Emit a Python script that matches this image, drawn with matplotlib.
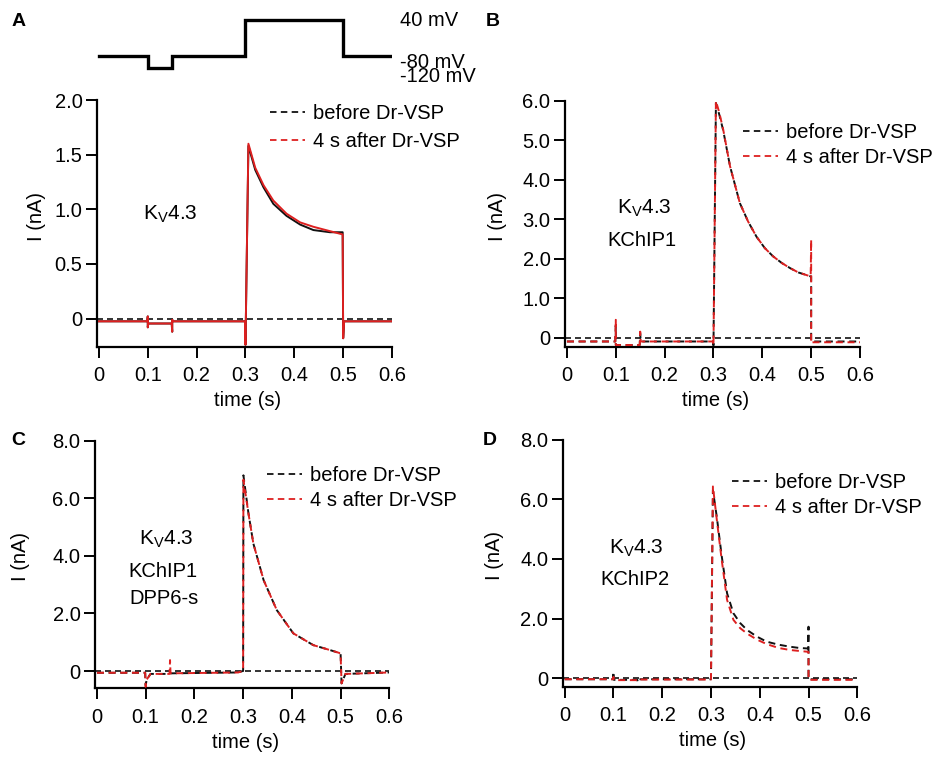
import matplotlib
matplotlib.use('Agg')
import matplotlib.pyplot as plt
from matplotlib.lines import Line2D

plt.rcParams['font.family'] = ['Liberation Sans', 'DejaVu Sans']
plt.rcParams['mathtext.fontset'] = 'custom'
plt.rcParams['mathtext.rm'] = 'Liberation Sans'
plt.rcParams['mathtext.it'] = 'Liberation Sans'
plt.rcParams['mathtext.bf'] = 'Liberation Sans:bold'

# ---------------- data ----------------
# voltage protocol
proto_t = [0, 0.1, 0.15, 0.3, 0.5, 0.6]
proto_v = [-80, -120, -80, 40, -80, -80]
proto_labels = ['40 mV', '-80 mV', '-120 mV']

legend_labels = ['before Dr-VSP', '4 s after Dr-VSP']
x_ticks = [0, 0.1, 0.2, 0.3, 0.4, 0.5, 0.6]
x_ticklabels = ['0', '0.1', '0.2', '0.3', '0.4', '0.5', '0.6']

# Panel A: Kv4.3
tA = [0, 0.099, 0.1, 0.1, 0.101, 0.149, 0.15, 0.15, 0.151, 0.299, 0.3, 0.306, 0.32,
      0.337, 0.357, 0.384, 0.412, 0.439, 0.473, 0.499, 0.5, 0.502, 0.6]
beforeA = [-0.025, -0.025, 0.02, -0.08, -0.045, -0.045, -0.12, -0.01, -0.025, -0.025, -0.24, 1.58, 1.36,
           1.20, 1.05, 0.94, 0.86, 0.81, 0.79, 0.79, -0.18, -0.025, -0.025]
afterA = [-0.025, -0.025, 0.02, -0.08, -0.045, -0.045, -0.12, -0.01, -0.025, -0.025, -0.24, 1.60, 1.38,
          1.22, 1.08, 0.96, 0.88, 0.84, 0.80, 0.77, -0.18, -0.025, -0.025]
yticksA = [0, 0.5, 1.0, 1.5, 2.0]
yticklabelsA = ['0', '0.5', '1.0', '1.5', '2.0']

# Panel B: Kv4.3 + KChIP1
tB = [0, 0.099, 0.1, 0.1, 0.102, 0.149, 0.15, 0.151, 0.299, 0.3, 0.305, 0.312, 0.32, 0.334, 0.354,
      0.371, 0.388, 0.405, 0.422, 0.44, 0.457, 0.474, 0.499, 0.5, 0.5, 0.502, 0.6]
beforeB = [-0.1, -0.1, 0.3, -0.19, -0.19, -0.19, 0.1, -0.1, -0.1, -0.2, 5.95, 5.65, 5.25, 4.34, 3.41,
           2.94, 2.56, 2.27, 2.06, 1.89, 1.76, 1.65, 1.55, 1.55, -0.1, -0.1, -0.1]
afterB = [-0.1, -0.1, 0.45, -0.19, -0.19, -0.19, 0.15, -0.1, -0.1, -0.2, 6.0, 5.7, 5.27, 4.34, 3.41,
          2.94, 2.56, 2.27, 2.06, 1.89, 1.76, 1.65, 1.55, 2.48, -0.15, -0.12, -0.12]
yticksB = [0, 1, 2, 3, 4, 5, 6]
yticklabelsB = ['0', '1.0', '2.0', '3.0', '4.0', '5.0', '6.0']

# Panel C: Kv4.3 + KChIP1 + DPP6-s
tC = [0, 0.099, 0.1, 0.102, 0.11, 0.149, 0.15, 0.151, 0.29, 0.299, 0.3, 0.3006, 0.311, 0.321, 0.342,
      0.369, 0.403, 0.444, 0.478, 0.499, 0.5, 0.502, 0.51, 0.6]
beforeC = [-0.06, -0.06, -0.5, -0.3, -0.1, -0.1, -0.1, -0.08, -0.05, 0.0, 0.0, 6.8, 5.47, 4.43, 3.16,
           2.12, 1.31, 0.90, 0.73, 0.62, 0.62, -0.43, -0.1, -0.05]
afterC = [-0.06, -0.06, -0.55, -0.3, -0.1, -0.1, 0.38, -0.08, -0.05, 0.0, 0.0, 6.65, 5.47, 4.43, 3.16,
          2.12, 1.31, 0.90, 0.73, 0.62, 0.62, -0.43, -0.1, -0.05]
yticksC = [0, 2, 4, 6, 8]
yticklabelsC = ['0', '2.0', '4.0', '6.0', '8.0']

# Panel D: Kv4.3 + KChIP2
tD = [0, 0.099, 0.1, 0.101, 0.149, 0.15, 0.151, 0.299, 0.3, 0.304, 0.312, 0.322, 0.333, 0.346, 0.36,
      0.374, 0.394, 0.414, 0.438, 0.462, 0.48, 0.499, 0.5, 0.5, 0.502, 0.6]
beforeD = [-0.03, -0.03, 0.22, -0.05, -0.05, -0.12, -0.03, -0.03, -0.03, 6.3, 5.4, 4.1, 2.85, 2.18, 1.85,
           1.62, 1.40, 1.23, 1.13, 1.06, 1.02, 1.0, 1.73, -0.03, -0.03, -0.03]
afterD = [-0.03, -0.03, 0.05, -0.06, -0.06, -0.08, -0.04, -0.04, -0.04, 6.43, 5.31, 3.97, 2.63, 1.96, 1.68,
          1.50, 1.30, 1.15, 1.02, 0.95, 0.92, 0.89, 0.89, -0.05, -0.05, -0.05]
yticksD = [0, 2, 4, 6, 8]
yticklabelsD = ['0', '2.0', '4.0', '6.0', '8.0']

# ---------------- layout helpers ----------------
W, H = 938, 757
fig = plt.figure(figsize=(W / 100, H / 100), dpi=100)


def fx(px):
    return px / W


def fy(py):
    return 1 - py / H


def add_ax(left, right, top, bottom):
    return fig.add_axes([fx(left), fy(bottom), (right - left) / W, (bottom - top) / H])


BLACK = '#111111'
RED = '#dd2020'
FS = 14.5
EM = FS * 100 / 72
DASH = (0, (3.6, 2.4))
KV = r'K$_{\mathregular{V}}$4.3'

panels = [
    dict(box=(97, 392, 100, 347), t=tA, b=beforeA, a=afterA, yt=yticksA, ytl=yticklabelsA, ylim=(-0.26, 2.0),
         solid=True, letter='A', letter_xy=(19, 21), kv=(143, 219.5),
         texts=[], leg=(270, 127.4, 28.3), ylab=(37, 216.7)),
    dict(box=(565, 860, 101, 347), t=tB, b=beforeB, a=afterB, yt=yticksB, ytl=yticklabelsB, ylim=(-0.24, 6.0),
         solid=False, letter='B', letter_xy=(493, 21), kv=(617, 214),
         texts=[('KChIP1', 642, 245.7)],
         leg=(743, 144.7, 26), ylab=(497, 216.7)),
    dict(box=(95, 389.3, 440.8, 688.3), t=tC, b=beforeC, a=afterC, yt=yticksC, ytl=yticklabelsC, ylim=(-0.6, 8.0),
         solid=False, letter='C', letter_xy=(18, 441), kv=(138.5, 545),
         texts=[('KChIP1', 163, 576.7), ('DPP6-s', 164, 604)],
         leg=(267, 488, 26), ylab=(20, 556.7)),
    dict(box=(562.7, 857.3, 439.6, 686.7), t=tD, b=beforeD, a=afterD, yt=yticksD, ytl=yticklabelsD, ylim=(-0.28, 8.0),
         solid=False, letter='D', letter_xy=(490, 441), kv=(609, 553.3),
         texts=[('KChIP2', 635, 585)],
         leg=(732, 495.3, 26), ylab=(495, 555)),
]

for p in panels:
    left, right, top, bottom = p['box']
    ax = add_ax(left, right, top, bottom)
    ax.set_xlim(-0.004, 0.6)
    ax.set_ylim(*p['ylim'])
    # zero reference line
    ax.axhline(0, color=BLACK, lw=1.2, linestyle=DASH, zorder=1)
    ls = '-' if p['solid'] else DASH
    ax.plot(p['t'], p['b'], color=BLACK, lw=1.4, linestyle=ls, zorder=2)
    ax.plot(p['t'], p['a'], color=RED, lw=1.4, linestyle=ls, zorder=3)

    for s in ['top', 'right']:
        ax.spines[s].set_visible(False)
    for s in ['left', 'bottom']:
        ax.spines[s].set_linewidth(1.6)
    ax.set_xticks(x_ticks)
    ax.set_xticklabels(x_ticklabels)
    ax.set_yticks(p['yt'])
    ax.set_yticklabels(p['ytl'])
    ax.tick_params(axis='both', direction='out', length=8, width=1.4, labelsize=FS, colors='black')
    ax.tick_params(axis='x', pad=6)
    ax.tick_params(axis='y', pad=2.5)

    hgt = bottom - top
    wid = right - left
    ax.set_xlabel('time (s)', fontsize=FS, va='center')
    ax.xaxis.set_label_coords(0.51, -54.0 / hgt)
    ax.set_ylabel('I (nA)', fontsize=FS, va='center')
    ax.yaxis.set_label_coords((p['ylab'][0] - left) / wid, (bottom - p['ylab'][1]) / hgt)

    kx, ky = p['kv']
    fig.text(fx(kx), fy(ky), KV, fontsize=FS + 0.5, ha='left', va='baseline')
    for txt, x, y in p['texts']:
        fig.text(fx(x), fy(y), txt, fontsize=FS, ha='center', va='baseline')

    fig.text(fx(p['letter_xy'][0]), fy(p['letter_xy'][1]), p['letter'], fontsize=14,
             fontweight='bold', ha='center', va='center')

    lx, ly, pitch = p['leg']
    handles = [Line2D([], [], color=BLACK, lw=1.3, linestyle=DASH),
               Line2D([], [], color=RED, lw=1.3, linestyle=DASH)]
    ax.legend(handles, legend_labels, loc='center left', bbox_to_anchor=(fx(lx), fy(ly)),
              bbox_transform=fig.transFigure, frameon=False, fontsize=FS,
              borderpad=0, borderaxespad=0, handlelength=1.75, handletextpad=0.4,
              labelspacing=(pitch - 20.0) / EM)

# voltage protocol (above panel A)
axp = add_ax(97, 392, 10, 75)
axp.set_xlim(-0.004, 0.6)
axp.set_ylim(-142, 73)
axp.step(proto_t, proto_v, where='post', color='black', lw=2.4, solid_joinstyle='miter')
axp.axis('off')
fig.text(fx(400), fy(20), proto_labels[0], fontsize=FS, ha='left', va='center')
fig.text(fx(400), fy(69.5), '\n'.join(proto_labels[1:]), fontsize=FS, ha='left', va='center',
         linespacing=0.72)

fig.savefig('out.png', dpi=100)
